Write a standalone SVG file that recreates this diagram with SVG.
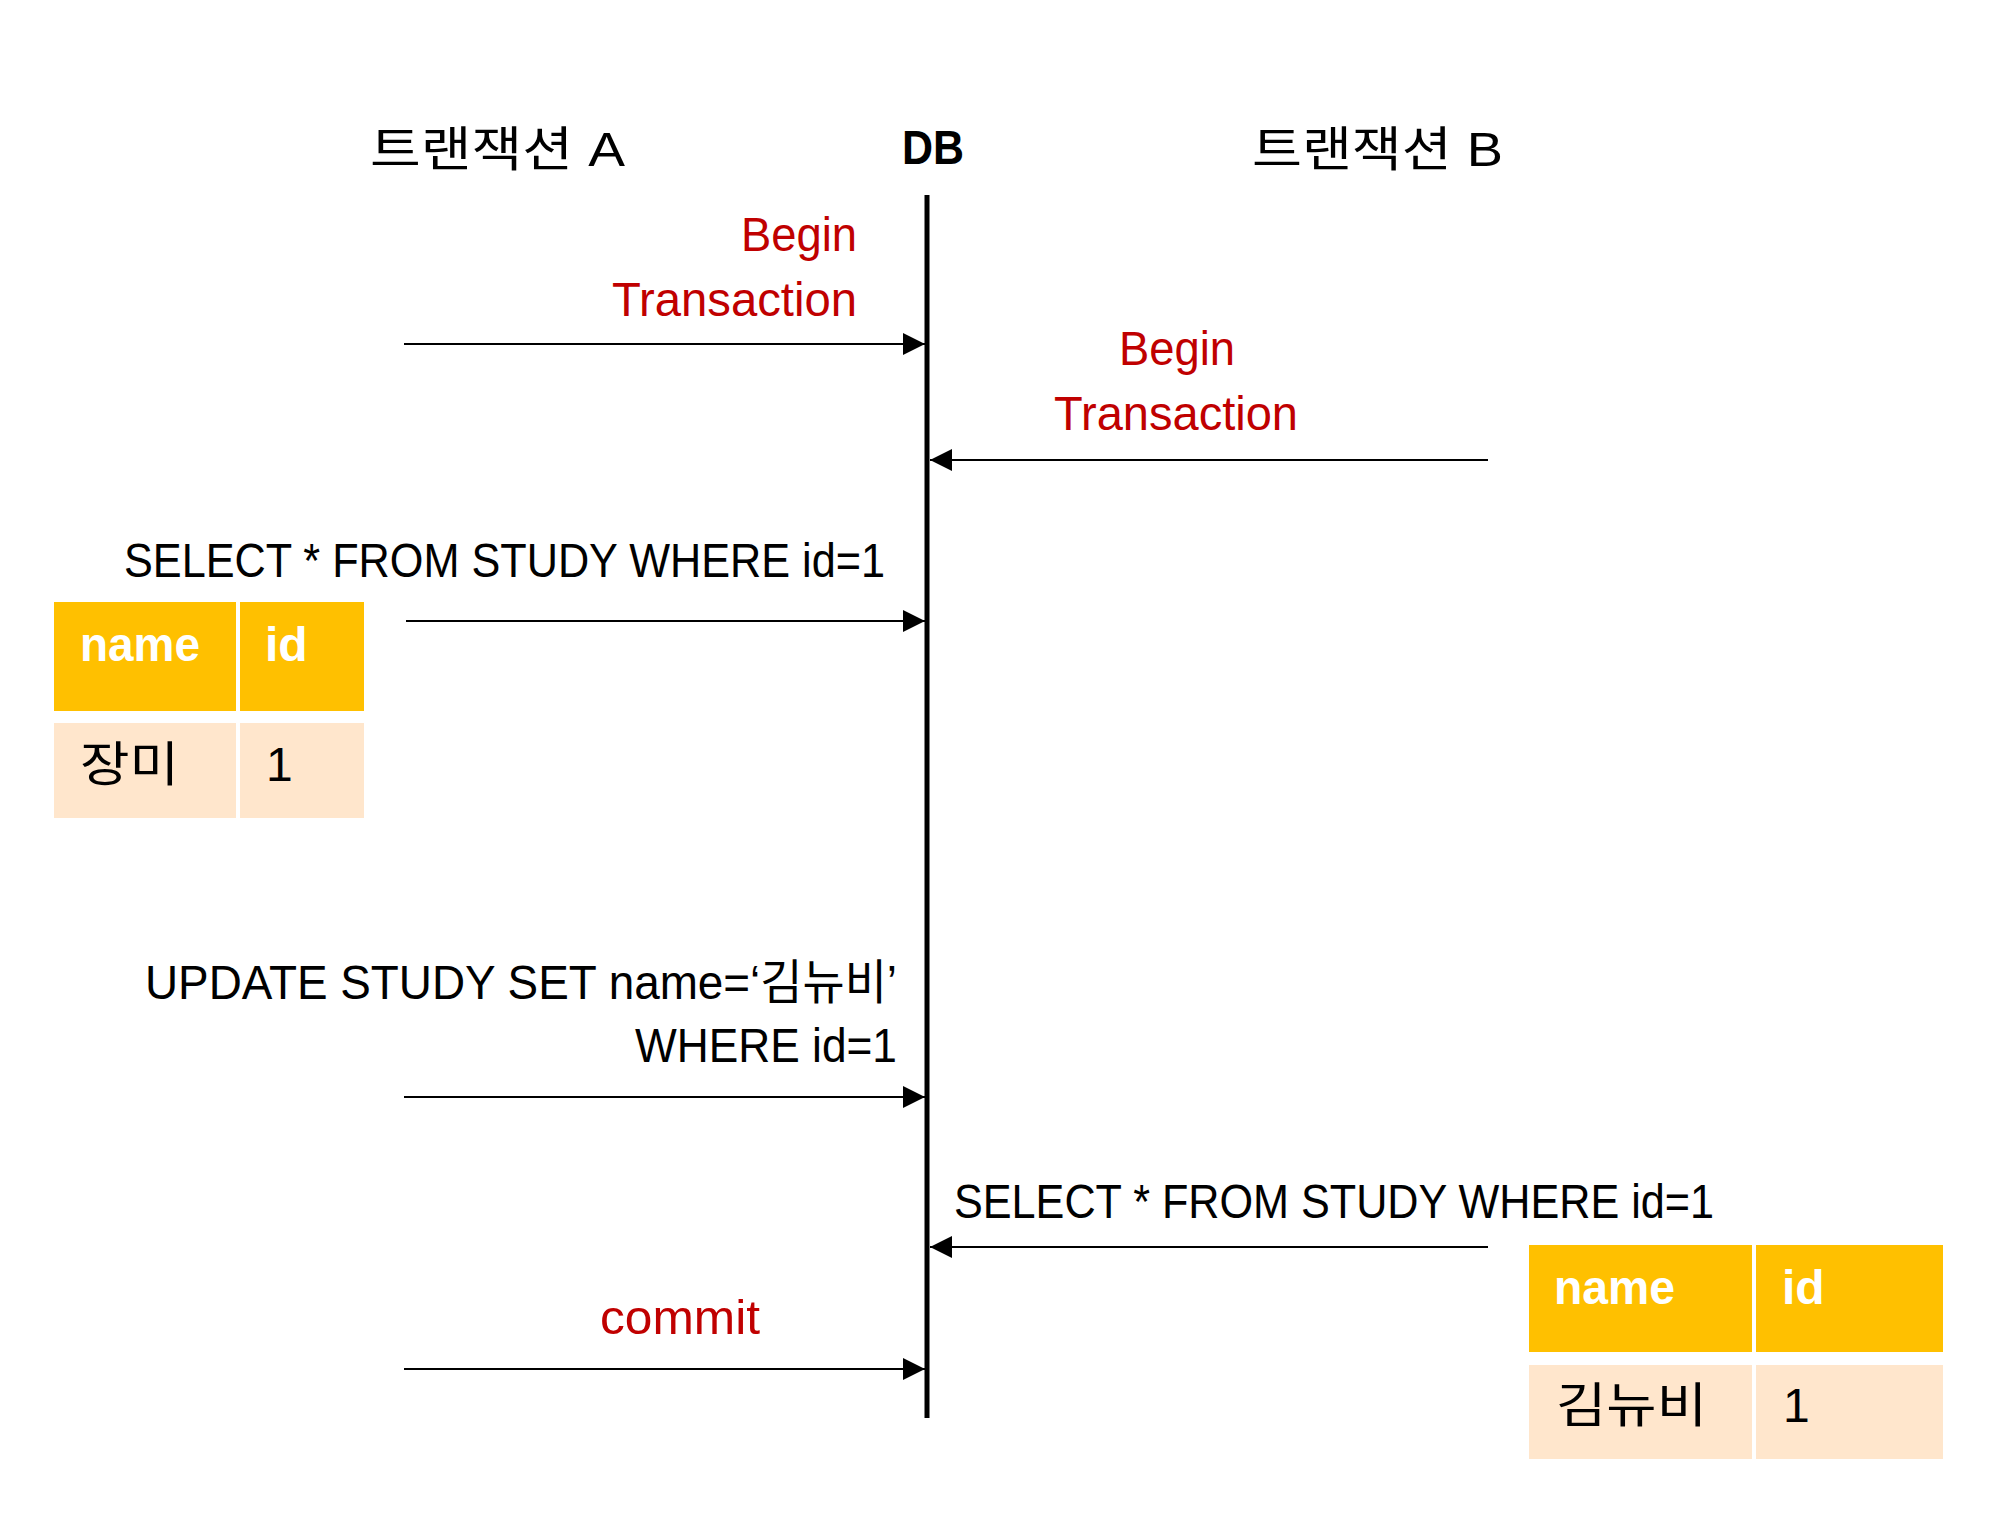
<svg xmlns="http://www.w3.org/2000/svg" width="2000" height="1527" viewBox="0 0 2000 1527">
<style>
.t{font-family:"Liberation Sans","Noto Sans CJK KR",sans-serif;font-size:48px;fill:#000}
.r{fill:#C00000}
.b{font-weight:bold}
.w{fill:#fff;font-weight:bold}
.hd{fill:#FFC000}
.rw{fill:#FFE6CC}
.ln{stroke:#000;stroke-width:2;fill:none}
</style>
<defs>
<marker id="ah" markerUnits="userSpaceOnUse" markerWidth="22" markerHeight="22" refX="22" refY="11" orient="auto">
<path d="M0,0 L22,11 L0,22 Z" fill="#000"/>
</marker>
</defs>
<rect width="2000" height="1527" fill="#fff"/>
<g id="header-a"><text class="t" x="370" y="166" textLength="255" lengthAdjust="spacingAndGlyphs">트랜잭션 A</text></g>
<g id="header-db"><text class="t b" x="902" y="164" textLength="62" lengthAdjust="spacingAndGlyphs">DB</text></g>
<g id="header-b"><text class="t" x="1252" y="166" textLength="251" lengthAdjust="spacingAndGlyphs">트랜잭션 B</text></g>
<g id="db-line"><line x1="927" y1="195" x2="927" y2="1418" stroke="#000" stroke-width="5"/></g>
<g id="connectors">
<line class="ln" x1="404" y1="344" x2="925" y2="344" marker-end="url(#ah)"/>
<line class="ln" x1="1488" y1="460" x2="930" y2="460" marker-end="url(#ah)"/>
<line class="ln" x1="406" y1="621" x2="925" y2="621" marker-end="url(#ah)"/>
<line class="ln" x1="404" y1="1097" x2="925" y2="1097" marker-end="url(#ah)"/>
<line class="ln" x1="1488" y1="1247" x2="930" y2="1247" marker-end="url(#ah)"/>
<line class="ln" x1="404" y1="1369" x2="925" y2="1369" marker-end="url(#ah)"/>
</g>
<g id="label-begin-a">
<text class="t r" x="741" y="251" textLength="116" lengthAdjust="spacingAndGlyphs">Begin</text>
<text class="t r" x="612" y="316" textLength="245" lengthAdjust="spacingAndGlyphs">Transaction</text>
</g>
<g id="label-begin-b">
<text class="t r" x="1119" y="365" textLength="116" lengthAdjust="spacingAndGlyphs">Begin</text>
<text class="t r" x="1054" y="430" textLength="244" lengthAdjust="spacingAndGlyphs">Transaction</text>
</g>
<g id="label-select-a"><text class="t" x="124" y="577" textLength="761" lengthAdjust="spacingAndGlyphs">SELECT * FROM STUDY WHERE id=1</text></g>
<g id="label-update">
<text class="t" x="145" y="999" textLength="752" lengthAdjust="spacingAndGlyphs">UPDATE STUDY SET name=‘김뉴비’</text>
<text class="t" x="635" y="1062" textLength="262" lengthAdjust="spacingAndGlyphs">WHERE id=1</text>
</g>
<g id="label-select-b"><text class="t" x="954" y="1218" textLength="760" lengthAdjust="spacingAndGlyphs">SELECT * FROM STUDY WHERE id=1</text></g>
<g id="label-commit"><text class="t r" x="600" y="1334" textLength="160" lengthAdjust="spacingAndGlyphs">commit</text></g>
<g id="table-a">
<rect class="hd" x="54" y="602" width="182" height="109"/>
<rect class="hd" x="240" y="602" width="124" height="109"/>
<rect class="rw" x="54" y="723" width="182" height="95"/>
<rect class="rw" x="240" y="723" width="124" height="95"/>
<text class="t w" x="80" y="661" textLength="120" lengthAdjust="spacingAndGlyphs">name</text>
<text class="t w" x="265" y="661">id</text>
<text class="t" x="80" y="781" textLength="99" lengthAdjust="spacingAndGlyphs">장미</text>
<text class="t" x="266" y="781">1</text>
</g>
<g id="table-b">
<rect class="hd" x="1529" y="1245" width="223" height="107"/>
<rect class="hd" x="1756" y="1245" width="187" height="107"/>
<rect class="rw" x="1529" y="1365" width="223" height="94"/>
<rect class="rw" x="1756" y="1365" width="187" height="94"/>
<text class="t w" x="1554" y="1304" textLength="121" lengthAdjust="spacingAndGlyphs">name</text>
<text class="t w" x="1782" y="1304">id</text>
<text class="t" x="1556" y="1422" textLength="151" lengthAdjust="spacingAndGlyphs">김뉴비</text>
<text class="t" x="1783" y="1422">1</text>
</g>
</svg>
